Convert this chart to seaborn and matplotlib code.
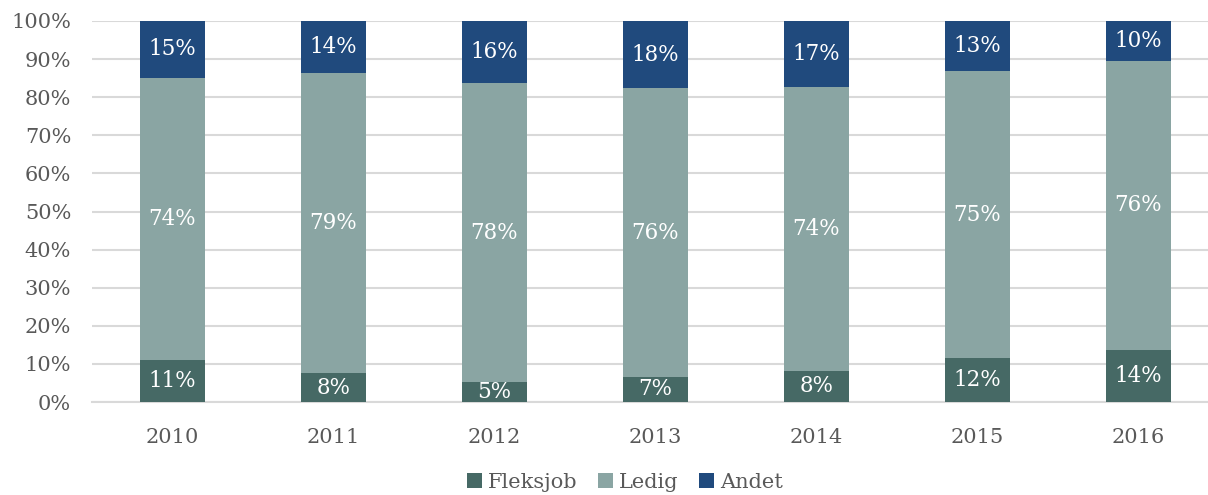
import matplotlib
matplotlib.use("Agg")
import matplotlib.pyplot as plt
from matplotlib.patches import Patch
from matplotlib.ticker import FixedLocator
import seaborn as sns
import pandas as pd

# Data (share of people, %)
years = ["2010", "2011", "2012", "2013", "2014", "2015", "2016"]
fleksjob = [11.0, 7.6, 5.2, 6.6, 8.2, 11.6, 13.7]
ledig = [74.1, 78.8, 78.4, 75.7, 74.4, 75.2, 75.9]
andet = [14.9, 13.6, 16.4, 17.7, 17.4, 13.2, 10.4]

series = ["Fleksjob", "Ledig", "Andet"]
colors = {"Fleksjob": "#466965", "Ledig": "#8AA5A3", "Andet": "#204A7D"}

df = pd.DataFrame({"year": years, "Fleksjob": fleksjob, "Ledig": ledig, "Andet": andet})
df["top_ledig"] = df["Fleksjob"] + df["Ledig"]
df["top_andet"] = df["top_ledig"] + df["Andet"]

sns.set_theme(style="white")
plt.rcParams["font.family"] = ["DejaVu Serif", "DejaVu Sans"]

fig = plt.figure(figsize=(12.08, 4.95), dpi=100)
ax = fig.add_axes([92 / 1208, 1 - 402 / 495, 1127 / 1208, 381 / 495])

# stacked bars: draw cumulative totals, top layer first
for col, c in [("top_andet", "Andet"), ("top_ledig", "Ledig"), ("Fleksjob", "Fleksjob")]:
    sns.barplot(data=df, x="year", y=col, color=colors[c], width=0.4,
                saturation=1, linewidth=0, ax=ax, zorder=3)

# value labels in the middle of each segment
for i, row in df.iterrows():
    bottom = 0
    for s in series:
        v = row[s]
        ax.text(i, bottom + v / 2, f"{round(v)}%", ha="center", va="center",
                color="white", fontsize=15.5, zorder=5, clip_on=True)
        bottom += v

ax.set_xlim(-0.5, 6.5)
ax.set_ylim(0, 100)
ax.set_yticks(range(0, 101, 10))
ax.set_yticklabels([f"{t}%" for t in range(0, 101, 10)])
ax.set_xlabel("")
ax.set_ylabel("")

ax.yaxis.grid(True, color="#D9D9D9", linewidth=1.5, zorder=0)
ax.set_axisbelow(True)
for sp in ["top", "right", "left"]:
    ax.spines[sp].set_visible(False)
ax.spines["bottom"].set_color("#D9D9D9")
ax.spines["bottom"].set_linewidth(1.5)

ax.tick_params(axis="y", length=0, labelsize=15, labelcolor="#595959", pad=15)
ax.tick_params(axis="x", which="major", length=0, labelsize=15, labelcolor="#595959", pad=19)
ax.xaxis.set_minor_locator(FixedLocator([k - 0.5 for k in range(len(years) + 1)]))
ax.tick_params(axis="x", which="minor", length=7, width=1.5, color="#D9D9D9", direction="out")

handles = [Patch(facecolor=colors[s], edgecolor="none", label=s) for s in series]
fig.legend(handles=handles, loc="center", bbox_to_anchor=(625 / 1208, 1 - 482 / 495),
           ncol=3, frameon=False, fontsize=15, handlelength=0.7, handleheight=0.7,
           handletextpad=0.3, columnspacing=1.0, labelcolor="#595959")

fig.savefig("out.png", dpi=100)
